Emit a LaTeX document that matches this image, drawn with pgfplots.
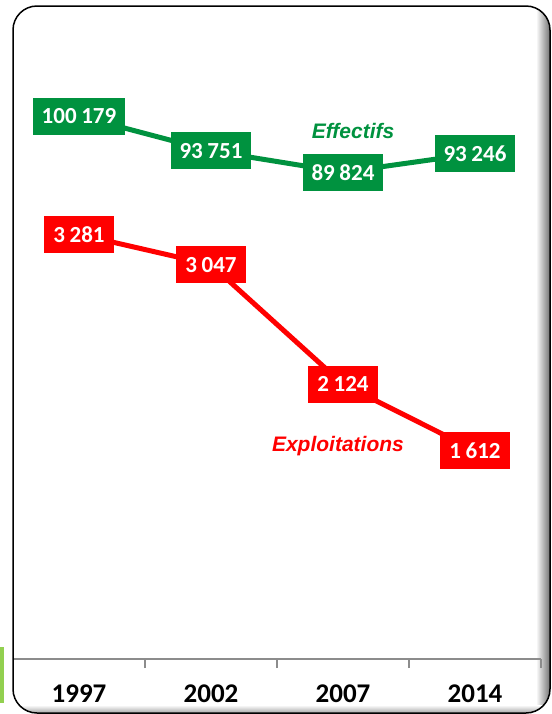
\documentclass[border=0pt]{standalone}
\usepackage{pgfplots}
\pgfplotsset{compat=1.18}
\usepackage{pgfplotstable}
\usepackage{fontspec}
\newfontfamily\carlito{Carlito}
\newfontfamily\arialf{Liberation Sans}
\definecolor{effgreen}{RGB}{0,146,63}
\definecolor{expred}{RGB}{255,0,0}
\definecolor{accent}{RGB}{146,208,80}
\pgfplotstableread{
x y
0.5 100179
1.5 93751
2.5 89824
3.5 93246
}\effectifs
\pgfplotstableread{
x y
0.5 3281
1.5 3047
2.5 2124
3.5 1612
}\exploitations
\pgfplotsset{
  base/.style={scale only axis, width=264pt, height=326.5pt,
    at={(6.5pt,-329.5pt)}, anchor=south west, xmin=0, xmax=4, ymin=0, clip=false},
  lbl/.style={point meta=y, nodes near coords,
    /pgf/number format/fixed, /pgf/number format/precision=0,
    /pgf/number format/1000 sep={\hspace{0.2em}},
    /pgf/number format/assume math mode=true,
    every node near coord/.append style={anchor=center, fill=#1, text=white,
      font=\carlito\bfseries\fontsize{11.5}{13}\selectfont,
      inner xsep=4.5pt, inner ysep=0pt, minimum height=18.5pt}}
}
\begin{document}
\begin{tikzpicture}
\path[use as bounding box] (0,0) rectangle (276pt,-357pt);
\fill[accent] (0,-323.5pt) rectangle (2pt,-351.5pt);
\fill[white, rounded corners=12pt] (6.5pt,-3pt) rectangle (275pt,-356.5pt);
\begin{scope}
\clip[rounded corners=12pt] (6.5pt,-3pt) rectangle (275pt,-356.5pt);
\shade[left color=white, right color=black!55] (268pt,-3pt) rectangle (275pt,-356.5pt);
\shade[top color=white, bottom color=black!35] (6.5pt,-352.5pt) rectangle (275pt,-356.5pt);
\end{scope}
\begin{axis}[base, ymax=120480,
  axis x line*=bottom, axis y line=none,
  x axis line style={draw=gray!90, line width=0.75pt},
  xtick={0.5,1.5,2.5,3.5}, xticklabels={1997,2002,2007,2014},
  major tick length=0pt, tick align=outside,
  extra x ticks={1,2,3,4}, extra x tick labels={},
  extra x tick style={major tick length=4.5pt, tick style={draw=gray!90, line width=0.75pt}},
  xticklabel style={anchor=center, yshift=-17.5pt, font=\carlito\bfseries\fontsize{13.5}{16}\selectfont},
  ytick=\empty]
\addplot[effgreen, line width=2.5pt, mark=none, lbl=effgreen] table[x=x, y=y] {\effectifs};
\node[anchor=base, text=effgreen, font=\arialf\bfseries\itshape\fontsize{10.5}{12}\selectfont] at (axis cs:2.576,96125) {Effectifs};
\end{axis}
\begin{axis}[base, ymax=5046, hide axis]
\addplot[expred, line width=2.5pt, mark=none, lbl=expred] table[x=x, y=y] {\exploitations};
\node[anchor=base, text=expred, font=\arialf\bfseries\itshape\fontsize{10.5}{12}\selectfont] at (axis cs:2.462,1600) {Exploitations};
\end{axis}
\draw[black, line width=0.75pt, rounded corners=12pt] (6.5pt,-3pt) rectangle (275pt,-356.5pt);
\end{tikzpicture}
\end{document}
